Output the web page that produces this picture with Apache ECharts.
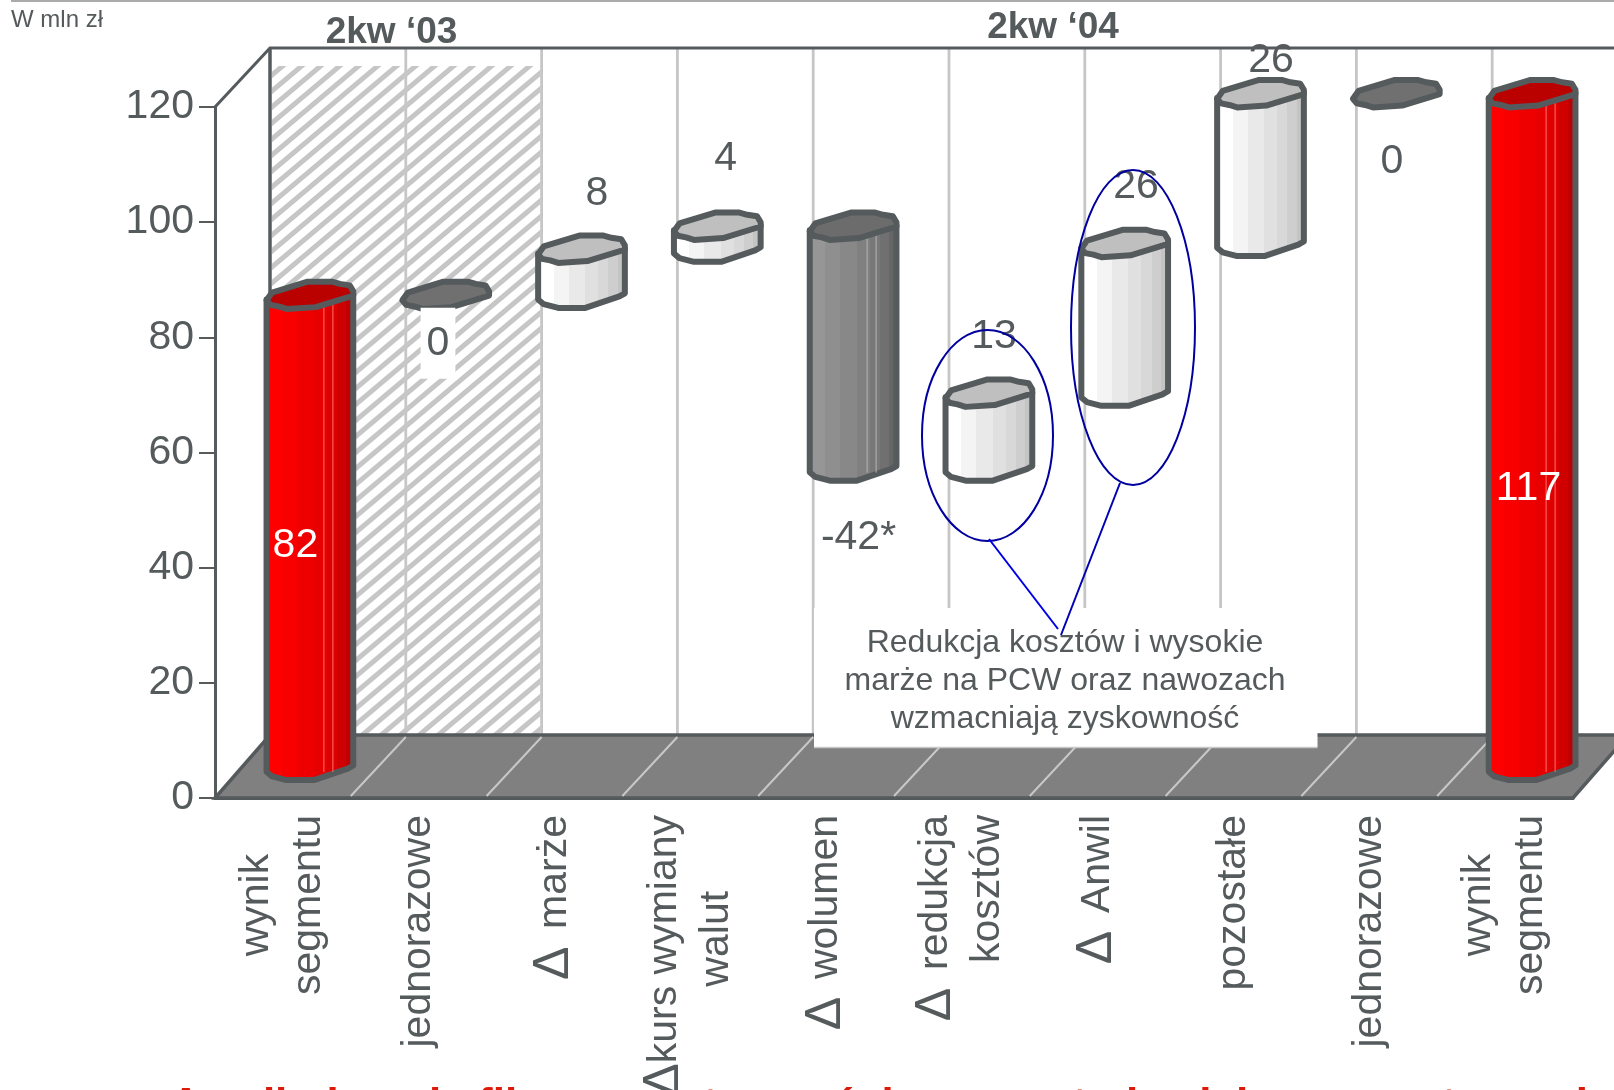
<!DOCTYPE html>
<html><head><meta charset="utf-8">
<style>html,body{margin:0;padding:0;background:#fff;overflow:hidden}#c{width:1614px;height:1090px}</style>
<script src="https://cdn.jsdelivr.net/npm/echarts@6/dist/echarts.min.js"></script>
</head><body><div id="c"></div>
<script>
const categories = ['wynik\nsegmentu','jednorazowe','Δ  marże','Δkurs wymiany\n\u00a0\u00a0\u00a0walut','Δ  wolumen','Δ  redukcja\nkosztów','Δ  Anwil','pozostałe','jednorazowe','wynik\nsegmentu'];
const barLow  = [0,82,82,90,52,52,65,91,117,0];
const barHigh = [82,82,90,94,94,65,91,117,117,117];
const barKinds = ['total','flat','up','up','down','up','up','up','flat','total'];
const dataLabels = ['82','0','8','4','-42*','13','26','26','0','117'];
const labelLevels = [44.4,79.5,105.4,111.5,45.7,80.6,106.7,128.5,111,54.2];
const labelShifts = [12.5,19.3,42.5,35.4,32.4,32.1,38.3,37.5,22.7,23.4];
const yTicks = {min:0,max:120,interval:20};

const INK='#555a5c', FONT='"Liberation Sans",Arial,sans-serif', FS=41;
const WALL={dx:55,dyFloor:-63,dyTop:-59}, BAR={dx:27,dy:-31};
const bandStops=[.2,.36,.54,.68,.79,.89,1];
const palettes={
  up:{bands:['#ffffff','#f4f4f4','#e9e9e9','#e0e0e0','#d8d8d8','#cecece','#c4c4c4'],cap:'#bfbfbf'},
  down:{bands:['#969696','#8f8f8f','#888888','#808080','#787878','#707070','#666666'],cap:'#6c6c6c',rib:'#b5b5b5'},
  total:{bands:['#ff0000','#f80000','#ee0000','#e60000','#dc0000','#cf0000','#bf0000'],cap:'#bb0000',rib:'#ff7070'},
  flat:{bands:['#6f6f6f','#6f6f6f'],cap:'#707070'}
};
const capOutline=[[-44.7,5.3],[-39,-3],[-2.3,-14.7],[22.7,-14.7],[31,-12.3],[41,-10.7],[44.7,-4.3],[44.7,.3],[6,12.7],[-24,14.7],[-32.3,12],[-40.7,10.3]];
const foot=[[-44.7,4],[-39,9],[-24,13],[4,13],[39,.7],[44.7,-2.7]];
const SX=.97,SY=.93;
function gradient(bands){
  const s=[];let prev=0;
  bands.forEach((c,i)=>{const e=bandStops[i]===undefined?1:bandStops[i];s.push({offset:prev,color:c},{offset:e,color:c});prev=e;});
  return new echarts.graphic.LinearGradient(0,0,1,0,s);
}
function hatch(){
  const w=19,h=16,c=document.createElement('canvas');c.width=w;c.height=h;
  const g=c.getContext('2d');g.fillStyle='#fff';g.fillRect(0,0,w,h);
  g.strokeStyle='#c6c6c6';g.lineWidth=5;
  [-1,0,1].forEach(k=>{g.beginPath();g.moveTo(k*w-w,2*h);g.lineTo(k*w+2*w,-h);g.stroke();});
  return {image:c,repeat:'repeat'};
}
const hatchFill=hatch();

function renderWalls(p,api){
  const r=p.coordSys,b=r.y+r.height,fy=b+WALL.dyFloor,ty=r.y+WALL.dyTop,d=WALL.dx,kids=[];
  const step=r.width/categories.length;
  kids.push({type:'rect',shape:{x:r.x+d+2,y:66,width:step*2-3,height:fy-66},style:{fill:hatchFill,stroke:null}});
  for(let i=1;i<=categories.length;i++){
    const x=r.x+step*i+d;
    kids.push({type:'line',shape:{x1:x,y1:ty,x2:x,y2:fy},style:{stroke:'#c6c6c6',lineWidth:2.8}});
  }
  kids.push({type:'polygon',shape:{points:[[r.x,b],[r.x+r.width,b],[r.x+r.width+d,fy],[r.x+d,fy]]},style:{fill:'#808080',stroke:INK,lineWidth:3.5}});
  for(let i=1;i<categories.length;i++){
    const x=r.x+step*i;
    kids.push({type:'line',shape:{x1:x,y1:b-2,x2:x+d,y2:fy+2},style:{stroke:'#c8c8c8',lineWidth:2}});
  }
  kids.push({type:'polyline',shape:{points:[[r.x,r.y],[r.x+d,ty],[r.x+r.width+d,ty]]},style:{stroke:INK,lineWidth:3,fill:null}});
  kids.push({type:'line',shape:{x1:r.x+d,y1:ty,x2:r.x+d,y2:fy},style:{stroke:INK,lineWidth:3.5}});
  return {type:'group',children:kids};
}
function renderBar(p,api){
  const i=api.value(0),low=barLow[i],high=barHigh[i],k=barKinds[i],pal=palettes[k];
  const t=api.coord([i,high]),l=api.coord([i,low]);
  const cx=t[0]+BAR.dx,ty=t[1]+BAR.dy,by=l[1]+BAR.dy;
  const kids=[];
  const style={stroke:INK,lineWidth:6,lineJoin:'round'};
  if(k!=='flat'){
    const pts=[[cx-44.7*SX,ty+5*SY],[cx+44.7*SX,ty]];
    foot.slice().reverse().forEach(q=>pts.push([cx+q[0]*SX,by+q[1]*SY+1]));
    kids.push({type:'polygon',shape:{points:pts},style:Object.assign({fill:gradient(pal.bands)},style)});
    if(pal.rib){[14,23].forEach(o=>kids.push({type:'line',shape:{x1:cx+o,y1:ty+5,x2:cx+o,y2:by+5},style:{stroke:pal.rib,lineWidth:1}}));}
  }
  kids.push({type:'polygon',shape:{points:capOutline.map(q=>[cx+q[0]*SX,ty+.5+q[1]*SY])},style:Object.assign({fill:pal.cap},style)});
  return {type:'group',children:kids};
}
function renderLabel(p,api){
  const i=api.value(0),c=api.coord([i,labelLevels[i]]),white=barKinds[i]==='total',boxed=i===1;
  return {type:'text',x:c[0]+labelShifts[i],y:c[1]+3,style:{text:dataLabels[i],font:FS+'px '+FONT,fill:white?'#fff':INK,align:'center',verticalAlign:'middle',
    backgroundColor:boxed?'#fff':null,padding:boxed?[15,6,15,6]:0}};
}
function axisText(v){
  return v.split('\n').map(s=>{
    if(s==='kosztów') return '{r|'+s+'}';
    const m=s.match(/^Δ( *)(.*)$/);
    if(!m) return '{c|'+s+'}';
    return '{d|Δ}'+(m[1]?'{s|'+m[1].replace(/ /g,'\u00a0')+'}':'')+'{c|'+m[2]+'}';
  }).join('\n');
}
const tok=a=>({align:a,fontSize:FS,fontFamily:FONT,color:INK,lineHeight:52});
const idx=categories.map((_,i)=>[i]);
const noFx={silent:true,animation:false,clip:false};
const chart=echarts.init(document.getElementById('c'),null,{renderer:'canvas',width:1614,height:1090});
chart.setOption({
  animation:false,backgroundColor:'#fff',
  grid:{left:215,top:107,width:1358,height:691,containLabel:false,outerBoundsMode:'none'},
  xAxis:{type:'category',data:categories,boundaryGap:true,
    axisLine:{lineStyle:{color:INK,width:3}},axisTick:{length:15,alignWithLabel:false,lineStyle:{color:INK,width:2.5}},
    axisLabel:{interval:0,rotate:90,margin:17,color:INK,fontFamily:FONT,fontSize:FS,lineHeight:52,hideOverlap:false,formatter:axisText,
      rich:{c:tok('center'),r:tok('right'),d:Object.assign(tok('center'),{fontSize:50}),s:Object.assign(tok('center'),{fontSize:32})}}},
  yAxis:Object.assign({type:'value',axisLine:{show:true,lineStyle:{color:INK,width:3}},axisTick:{show:true,length:16,lineStyle:{color:INK,width:2}},
    splitLine:{show:false},axisLabel:{margin:21,color:INK,fontFamily:FONT,fontSize:FS,padding:[6,0,0,0]}},yTicks),
  series:[
    Object.assign({type:'custom',z:1,data:[[0]],renderItem:renderWalls},noFx),
    Object.assign({type:'custom',z:3,data:idx,renderItem:renderBar},noFx),
    Object.assign({type:'custom',z:4,data:idx,renderItem:renderLabel},noFx)
  ],
  graphic:{elements:[
    {type:'rect',z:20,silent:true,shape:{x:11,y:0,width:1603,height:2},style:{fill:'#aaaaaa'}},
    {type:'text',z:20,silent:true,x:11,y:20.5,style:{text:'W mln zł',font:'24px '+FONT,fill:INK,verticalAlign:'middle'}},
    {type:'text',z:20,silent:true,x:391.5,y:33,style:{text:'2kw ‘03',font:'bold 37px '+FONT,fill:INK,align:'center',verticalAlign:'middle'}},
    {type:'text',z:20,silent:true,x:1053,y:28,style:{text:'2kw ‘04',font:'bold 37px '+FONT,fill:INK,align:'center',verticalAlign:'middle'}},
    {type:'rect',z:5,silent:true,shape:{x:814,y:608,width:503.5,height:139},style:{fill:'#fff',stroke:null}},
    {type:'line',z:5,silent:true,shape:{x1:814,y1:747.5,x2:1317.5,y2:747.5},style:{stroke:'#c8c8c8',lineWidth:1.5}},
    {type:'text',z:6,silent:true,x:1065,y:643,style:{text:'Redukcja kosztów i wysokie',font:'32px '+FONT,fill:INK,align:'center',verticalAlign:'middle'}},
    {type:'text',z:6,silent:true,x:1065,y:681,style:{text:'marże na PCW oraz nawozach',font:'32px '+FONT,fill:INK,align:'center',verticalAlign:'middle'}},
    {type:'text',z:6,silent:true,x:1065,y:719,style:{text:'wzmacniają zyskowność',font:'32px '+FONT,fill:INK,align:'center',verticalAlign:'middle'}},
    {type:'ellipse',z:7,silent:true,shape:{cx:987.5,cy:435.5,rx:65.5,ry:105.5},style:{fill:null,stroke:'#0000a0',lineWidth:2}},
    {type:'ellipse',z:7,silent:true,shape:{cx:1133,cy:327.5,rx:62,ry:157.5},style:{fill:null,stroke:'#0000a0',lineWidth:2}},
    {type:'line',z:7,silent:true,shape:{x1:989,y1:539,x2:1058,y2:629},style:{stroke:'#0000e6',lineWidth:2}},
    {type:'line',z:7,silent:true,shape:{x1:1120,y1:483,x2:1061,y2:635},style:{stroke:'#0000b4',lineWidth:2}},
    {type:'text',z:20,silent:true,x:170,y:1085,style:{text:'Anwil obecnie filarem rentowności segmentu i całej grupy w tym roku',font:'bold 44px '+FONT,fill:'#dd1a0a',verticalAlign:'top'}}
  ]}
});
</script></body></html>
